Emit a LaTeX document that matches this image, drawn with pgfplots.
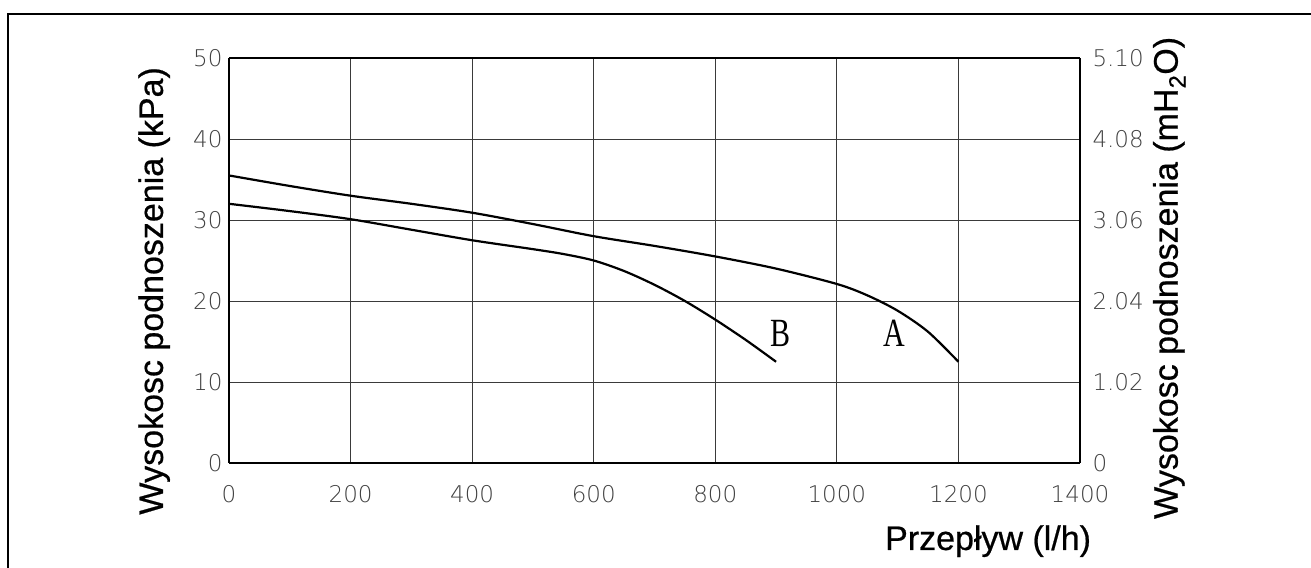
\documentclass[border=0pt]{standalone}
\usepackage{fontspec}
\setmainfont{Liberation Sans}[FakeBold=0.6]
\newfontfamily\tickfont{DejaVu Sans}[UprightFont=* ExtraLight]
\newfontfamily\abfont{Liberation Serif}[FakeStretch=0.75]
\usepackage{pgfplots}
\pgfplotsset{compat=1.18}
\definecolor{gridgray}{HTML}{3A3A3A}
\definecolor{tickgray}{HTML}{404040}

\begin{document}
\begin{tikzpicture}
\useasboundingbox (0,0) rectangle (1311bp,568bp);
% outer frame (only top and left edges visible)
\draw[line width=2.2bp] (8bp,0) -- (8bp,554bp) -- (1311bp,554bp);

\begin{axis}[
    at={(229bp,105bp)}, anchor=south west,
    scale only axis,
    width=851bp, height=405bp,
    xmin=0, xmax=1400, ymin=0, ymax=50,
    xtick={0,200,...,1400},
    ytick={0,10,...,50},
    major tick length=0pt,
    grid=major,
    grid style={gridgray, line width=0.9bp},
    axis line style={line width=2.2bp},
    axis y line*=left,
    axis x line*=bottom,
    ticklabel style={font=\tickfont\fontsize{23bp}{23bp}\selectfont, text=tickgray},
    /pgf/number format/assume math mode=true,
    /pgf/number format/1000 sep={},
    yticklabel style={xshift=-3bp},
    xticklabel style={yshift=-19bp},
    xlabel={Przepływ (l/h)},
    ylabel={Wysokosc podnoszenia (kPa)},
    label style={font=\fontsize{34bp}{34bp}\selectfont},
    xlabel style={at={(axis description cs:0.892,-0.193)}, anchor=center},
    ylabel style={at={(axis description cs:-0.088,0.425)}, anchor=center},
    clip=false,
]
\addplot[black, line width=2.2bp, smooth, tension=0.5] coordinates {
    (0,35.5)(100,34.2)(200,33.0)(300,32.0)(400,30.9)(500,29.5)(600,28.0)
    (700,26.8)(800,25.5)(900,24.0)(1000,22.1)(1050,20.7)(1100,18.8)
    (1150,16.2)(1200,12.5)
};
\addplot[black, line width=2.2bp, smooth, tension=0.5] coordinates {
    (0,32.0)(100,31.1)(200,30.1)(300,28.8)(400,27.5)(500,26.4)(550,25.8)
    (600,25.0)(650,23.7)(700,22.0)(750,20.0)(800,17.7)(850,15.2)(900,12.5)
};
\node[font=\abfont\fontsize{40bp}{40bp}\selectfont] at (axis cs:908,16) {B};
\node[font=\abfont\fontsize{40bp}{40bp}\selectfont] at (axis cs:1094,16) {A};
\draw[line width=2.2bp] (rel axis cs:0,1) -- (rel axis cs:1,1);
\draw[line width=2.2bp] (rel axis cs:1,0) -- (rel axis cs:1,1);
\end{axis}

\begin{axis}[
    at={(229bp,105bp)}, anchor=south west,
    scale only axis,
    width=851bp, height=405bp,
    xmin=0, xmax=1400, ymin=0, ymax=50,
    axis x line=none,
    axis y line*=right,
    axis line style={draw=none},
    ytick={0,10,...,50},
    yticklabels={0,1.02,2.04,3.06,4.08,5.10},
    major tick length=0pt,
    ticklabel style={font=\tickfont\fontsize{23bp}{23bp}\selectfont, text=tickgray},
    yticklabel style={xshift=9bp},
    ylabel={Wysokosc podnoszenia (mH\textsubscript{2}O)},
    ylabel style={font=\fontsize{34bp}{34bp}\selectfont,
        at={(axis description cs:1.105,0.457)}, anchor=center},
]
\end{axis}
\end{tikzpicture}
\end{document}
